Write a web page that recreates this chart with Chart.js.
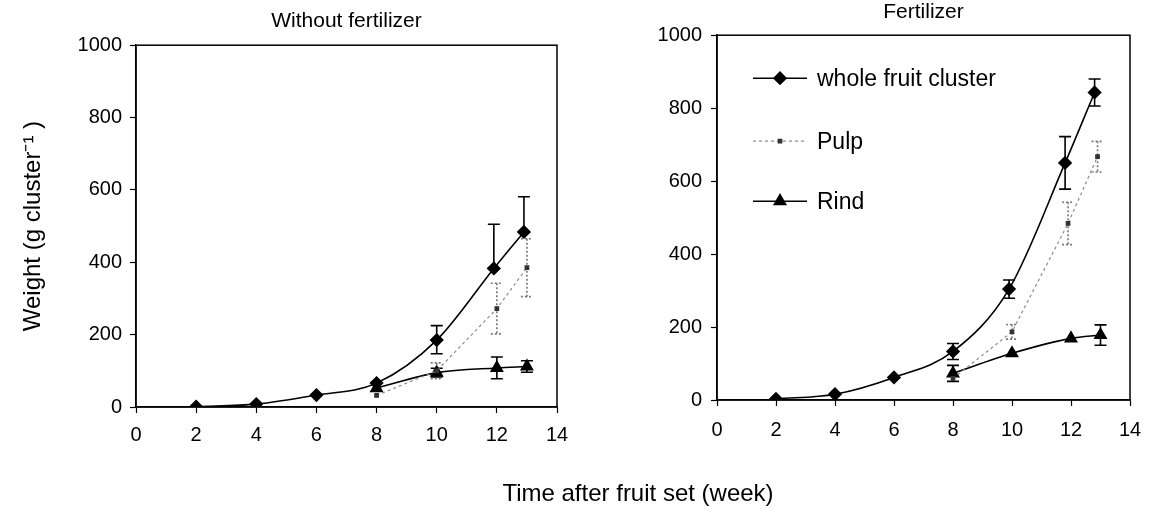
<!DOCTYPE html>
<html>
<head>
<meta charset="utf-8">
<script src="https://cdn.jsdelivr.net/npm/chart.js@4.4.1/dist/chart.umd.min.js"></script>
<style>
    html, body { margin: 0; padding: 0; background: #fff; }
    #page { position: relative; width: 1155px; height: 511px; overflow: hidden; background: #fff; }
    #leftCanvas { position: absolute; left: 0; top: 0; }
    #rightCanvas { position: absolute; left: 580px; top: 0; }
    #xTitle {
        position: absolute; left: 438px; top: 480px; width: 400px;
        text-align: center; font: 24px 'Liberation Sans', Arial, sans-serif;
        line-height: 26px; color: #000;
    }
</style>
</head>
<body>
<div id="page">
    <canvas id="leftCanvas" width="580" height="511"></canvas>
    <canvas id="rightCanvas" width="575" height="511"></canvas>
    <div id="xTitle">Time after fruit set (week)</div>
</div>
<script>
// Semaines (axe x)
const weeksWholeNF = [2, 4, 6, 8, 10, 11.9, 12.9];
const weeksPartsNF = [8, 10, 12, 13];
const weeksWholeF = [2, 4, 6, 8, 9.9, 11.8, 12.8];
const weeksPulpF = [8, 10, 11.9, 12.9];
const weeksRindF = [8, 10, 12, 13];

// Sans engrais
const wholeNF = [1, 8, 33, 66, 185, 383, 484];
const wholeNFUp = [0, 0, 0, 0, 40, 122, 97];
const wholeNFDown = [0, 0, 0, 0, 38, 0, 0];
const pulpNF = [32, 100, 272, 385];
const pulpNFErr = [0, 22, 70, 80];
const rindNF = [52, 95, 108, 112];
const rindNFErr = [0, 12, 30, 16];

// Avec engrais
const wholeF = [3, 16, 62, 133, 304, 650, 843];
const wholeFErr = [0, 0, 0, 22, 25, 72, 37];
const pulpF = [59, 187, 484, 667];
const pulpFErr = [0, 20, 58, 42];
const rindF = [73, 128, 169, 178];
const rindFErr = [22, 0, 0, 28];

// Graduations
const xTicks = [0, 2, 4, 6, 8, 10, 12, 14];
const yTicks = [0, 200, 400, 600, 800, 1000];
const seriesNames = ['whole fruit cluster', 'Pulp', 'Rind'];

const FONT = "'Liberation Sans', Arial, sans-serif";
Chart.defaults.font.family = FONT;
Chart.defaults.color = '#000';

const toPoints = (xs, ys) => xs.map((x, i) => ({ x: x, y: ys[i] }));

// Styles des séries
function wholeSet(xs, ys, up, down) {
    return {
        label: seriesNames[0], data: toPoints(xs, ys), errUp: up, errDown: down,
        borderColor: '#000', backgroundColor: '#000', borderWidth: 1.6,
        pointStyle: 'rectRot', pointRadius: 6, cubicInterpolationMode: 'monotone'
    };
}
function pulpSet(xs, ys, err) {
    return {
        label: seriesNames[1], data: toPoints(xs, ys), errUp: err, errDown: err,
        borderColor: '#8c8c8c', backgroundColor: '#333', borderWidth: 1.2,
        borderDash: [3, 3], errDash: [2, 2], errColor: '#777',
        pointStyle: 'rect', pointRadius: 2.5, pointBorderColor: '#333', tension: 0
    };
}
function rindSet(xs, ys, err) {
    return {
        label: seriesNames[2], data: toPoints(xs, ys), errUp: err, errDown: err,
        borderColor: '#000', backgroundColor: '#000', borderWidth: 1.6,
        pointStyle: 'triangle', pointRadius: 6.5, cubicInterpolationMode: 'monotone'
    };
}

// Barres d'erreur dessinées via les échelles
const errorBars = {
    id: 'errorBars',
    beforeDatasetsDraw(chart) {
        const ctx = chart.ctx;
        const yScale = chart.scales.y;
        chart.data.datasets.forEach((ds, di) => {
            const meta = chart.getDatasetMeta(di);
            ctx.save();
            ctx.strokeStyle = ds.errColor || '#000';
            ctx.lineWidth = 1.6;
            ctx.setLineDash(ds.errDash || []);
            ds.data.forEach((p, i) => {
                const up = ds.errUp[i] || 0;
                const down = ds.errDown[i] || 0;
                if (!up && !down) return;
                const x = meta.data[i].x;
                const yTop = yScale.getPixelForValue(p.y + up);
                const yBot = yScale.getPixelForValue(p.y - down);
                ctx.beginPath();
                ctx.moveTo(x, yTop);
                ctx.lineTo(x, yBot);
                if (up) { ctx.moveTo(x - 6, yTop); ctx.lineTo(x + 6, yTop); }
                if (down) { ctx.moveTo(x - 6, yBot); ctx.lineTo(x + 6, yBot); }
                ctx.stroke();
            });
            ctx.restore();
        });
    }
};

// Cadre autour de la zone de tracé
const frameBox = {
    id: 'frameBox',
    beforeDatasetsDraw(chart) {
        const a = chart.chartArea;
        const ctx = chart.ctx;
        ctx.save();
        ctx.strokeStyle = '#000';
        ctx.lineWidth = 1.5;
        ctx.strokeRect(a.left, a.top, a.right - a.left, a.bottom - a.top);
        ctx.restore();
    }
};

// Légende intérieure (ligne + symbole + texte)
const innerLegend = {
    id: 'innerLegend',
    afterDatasetsDraw(chart) {
        const a = chart.chartArea;
        const ctx = chart.ctx;
        const rows = [43, 106, 166];
        chart.data.datasets.forEach((ds, i) => {
            const y = a.top + rows[i];
            ctx.save();
            ctx.strokeStyle = ds.borderColor;
            ctx.lineWidth = ds.borderWidth;
            ctx.setLineDash(ds.borderDash || []);
            ctx.beginPath();
            ctx.moveTo(a.left + 36, y);
            ctx.lineTo(a.left + 90, y);
            ctx.stroke();
            ctx.setLineDash([]);
            ctx.fillStyle = ds.backgroundColor;
            ctx.strokeStyle = ds.pointBorderColor || ds.borderColor;
            Chart.helpers.drawPoint(ctx, {
                pointStyle: ds.pointStyle, radius: ds.pointRadius, rotation: 0, borderWidth: 1
            }, a.left + 63, y);
            ctx.fillStyle = '#000';
            ctx.font = '23px ' + FONT;
            ctx.textBaseline = 'middle';
            ctx.textAlign = 'left';
            ctx.fillText(ds.label, a.left + 100, y + 1);
            ctx.restore();
        });
    }
};

function panelOptions(o) {
    const tickFont = { size: 20 };
    const grid = {
        display: true, drawOnChartArea: false, drawTicks: true,
        tickLength: 6, tickColor: '#000', tickWidth: 1.2
    };
    return {
        responsive: false,
        animation: false,
        layout: { padding: { left: 0, right: o.padRight, top: 0, bottom: 0 } },
        plugins: {
            legend: { display: false },
            tooltip: { enabled: false },
            title: {
                display: true, text: o.title, fullSize: false, color: '#000',
                font: { size: 21, weight: 'normal', lineHeight: 1.2 },
                padding: { top: o.titleTop, bottom: o.titleBottom }
            }
        },
        scales: {
            x: {
                type: 'linear', min: 0, max: 14,
                afterBuildTicks: s => { s.ticks = xTicks.map(v => ({ value: v })); },
                ticks: { font: tickFont, padding: o.xPad, maxRotation: 0, autoSkip: false,
                    callback: v => String(v) },
                grid: grid,
                border: { display: true, color: '#000', width: 1.5 },
                afterFit: s => { s.height = o.xHeight; }
            },
            y: {
                type: 'linear', min: 0, max: 1000,
                afterBuildTicks: s => { s.ticks = yTicks.map(v => ({ value: v })); },
                ticks: { font: tickFont, padding: o.yPad, callback: v => String(v) },
                grid: grid,
                border: { display: true, color: '#000', width: 1.5 },
                title: o.yTitle ? {
                    display: true, text: o.yTitle, color: '#000',
                    font: { size: 24 }, padding: { top: 19, bottom: 0 }
                } : { display: false },
                afterFit: s => { s.width = o.yWidth; }
            }
        }
    };
}

new Chart(document.getElementById('leftCanvas'), {
    type: 'line',
    data: {
        datasets: [
            wholeSet(weeksWholeNF, wholeNF, wholeNFUp, wholeNFDown),
            pulpSet(weeksPartsNF, pulpNF, pulpNFErr),
            rindSet(weeksPartsNF, rindNF, rindNFErr)
        ]
    },
    options: panelOptions({
        title: 'Without fertilizer', titleTop: 9, titleBottom: 11,
        padRight: 23, xHeight: 104, xPad: 10, yWidth: 136, yPad: 8,
        yTitle: 'Weight (g cluster⁻¹ )'
    }),
    plugins: [frameBox, errorBars]
});

new Chart(document.getElementById('rightCanvas'), {
    type: 'line',
    data: {
        datasets: [
            wholeSet(weeksWholeF, wholeF, wholeFErr, wholeFErr),
            pulpSet(weeksPulpF, pulpF, pulpFErr),
            rindSet(weeksRindF, rindF, rindFErr)
        ]
    },
    options: panelOptions({
        title: 'Fertilizer', titleTop: 0, titleBottom: 10,
        padRight: 25, xHeight: 111, xPad: 12, yWidth: 137, yPad: 9,
        yTitle: null
    }),
    plugins: [frameBox, errorBars, innerLegend]
});
</script>
</body>
</html>
